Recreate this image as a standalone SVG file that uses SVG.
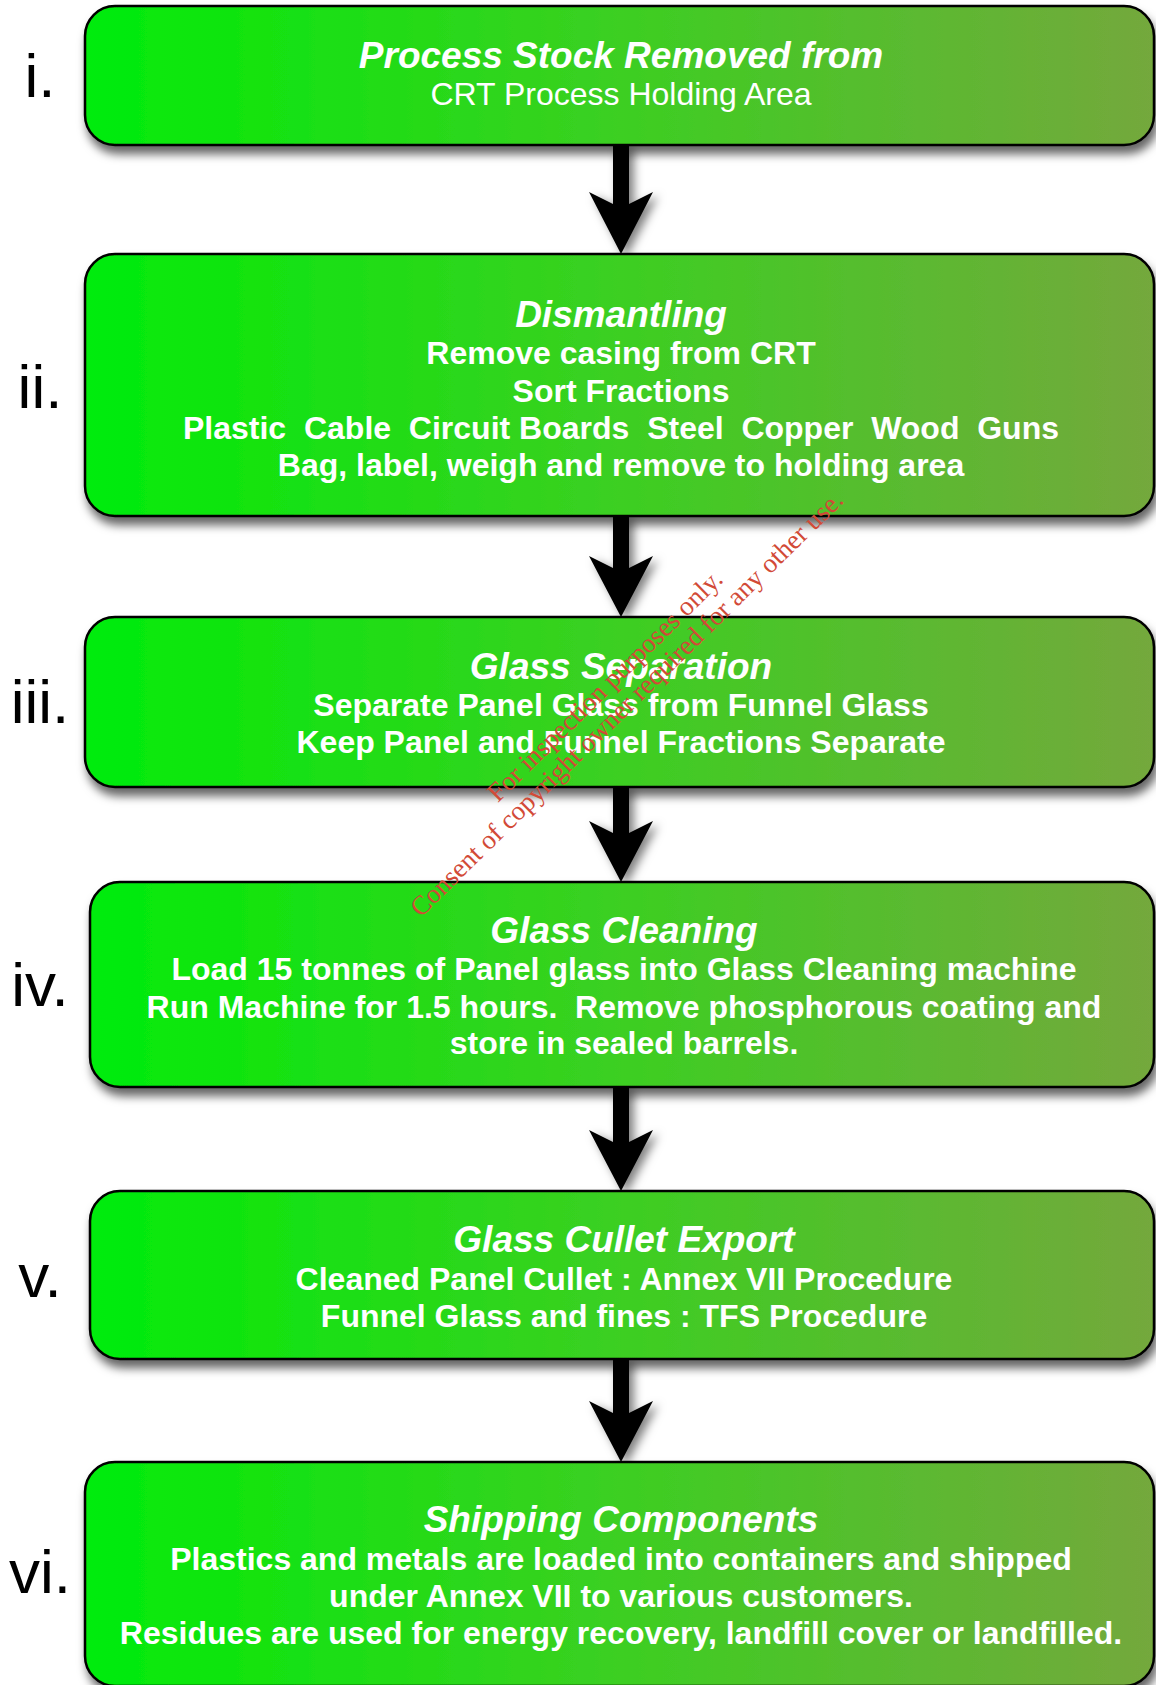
<svg xmlns="http://www.w3.org/2000/svg" width="1156" height="1685" viewBox="0 0 1156 1685">
<style>
.box{stroke:#000;stroke-width:2.5;fill:url(#g)}
.t{font-family:"Liberation Sans",Arial,sans-serif;fill:#fff;text-anchor:middle;white-space:pre}
.ti{font-size:37px;font-weight:bold;font-style:italic}
.b{font-size:32px;font-weight:bold}
.r{font-size:32px}
.num{font-family:"Liberation Sans",Arial,sans-serif;font-size:62px;fill:#000;text-anchor:middle}
.wm{font-family:"Liberation Serif","Times New Roman",serif;font-size:27px;fill:#d24a37;text-anchor:middle}
.arr{fill:#000}
</style>
<defs>
<linearGradient id="g" x1="0" y1="0" x2="1" y2="0">
<stop offset="0" stop-color="#00ec08"/>
<stop offset="0.5" stop-color="#3ccf22"/>
<stop offset="1" stop-color="#74a83c"/>
</linearGradient>
<filter id="sh" x="-5%" y="-20%" width="112%" height="150%">
<feDropShadow dx="3" dy="8" stdDeviation="5" flood-color="#000" flood-opacity="0.6"/>
</filter>
<filter id="sha" x="-50%" y="-20%" width="250%" height="150%">
<feDropShadow dx="5" dy="4" stdDeviation="5" flood-color="#000" flood-opacity="0.5"/>
</filter>
</defs>
<rect width="1156" height="1685" fill="#fff"/>
<g id="connectors" filter="url(#sha)">
<path class="arr" d="M613,145 L613,204 L589,192 L621,254 L653,192 L629,204 L629,145 Z"/>
<path class="arr" d="M613,516 L613,568 L589,556 L621,617 L653,556 L629,568 L629,516 Z"/>
<path class="arr" d="M613,787 L613,833 L589,821 L621,882 L653,821 L629,833 L629,787 Z"/>
<path class="arr" d="M613,1087 L613,1142 L589,1130 L621,1191 L653,1130 L629,1142 L629,1087 Z"/>
<path class="arr" d="M613,1359 L613,1413 L589,1401 L621,1462 L653,1401 L629,1413 L629,1359 Z"/>
</g>
<g id="node1">
<rect class="box" filter="url(#sh)" x="85" y="6" width="1069" height="139" rx="30"/>
<text class="t ti" x="621" y="68">Process Stock Removed from</text>
<text class="t r" x="621" y="105">CRT Process Holding Area</text>
<text class="num" x="40" y="97">i.</text>
</g>
<g id="node2">
<rect class="box" filter="url(#sh)" x="85" y="254" width="1069" height="262" rx="30"/>
<text class="t ti" x="621" y="327">Dismantling</text>
<text class="t b" x="621" y="364">Remove casing from CRT</text>
<text class="t b" x="621" y="402">Sort Fractions</text>
<text class="t b" x="621" y="439">Plastic  Cable  Circuit Boards  Steel  Copper  Wood  Guns</text>
<text class="t b" x="621" y="476">Bag, label, weigh and remove to holding area</text>
<text class="num" x="40" y="408">ii.</text>
</g>
<g id="node3">
<rect class="box" filter="url(#sh)" x="85" y="617" width="1069" height="170" rx="30"/>
<text class="t ti" x="621" y="679">Glass Separation</text>
<text class="t b" x="621" y="716">Separate Panel Glass from Funnel Glass</text>
<text class="t b" x="621" y="753">Keep Panel and Funnel Fractions Separate</text>
<text class="num" x="40" y="723">iii.</text>
</g>
<g id="node4">
<rect class="box" filter="url(#sh)" x="90" y="882" width="1064" height="205" rx="30"/>
<text class="t ti" x="624" y="943">Glass Cleaning</text>
<text class="t b" x="624" y="980">Load 15 tonnes of Panel glass into Glass Cleaning machine</text>
<text class="t b" x="624" y="1018">Run Machine for 1.5 hours.  Remove phosphorous coating and</text>
<text class="t b" x="624" y="1054">store in sealed barrels.</text>
<text class="num" x="40" y="1006">iv.</text>
</g>
<g id="node5">
<rect class="box" filter="url(#sh)" x="90" y="1191" width="1064" height="168" rx="30"/>
<text class="t ti" x="624" y="1252">Glass Cullet Export</text>
<text class="t b" x="624" y="1290">Cleaned Panel Cullet : Annex VII Procedure</text>
<text class="t b" x="624" y="1327">Funnel Glass and fines : TFS Procedure</text>
<text class="num" x="40" y="1297">v.</text>
</g>
<g id="node6">
<rect class="box" filter="url(#sh)" x="85" y="1462" width="1069" height="224" rx="30"/>
<text class="t ti" x="621" y="1532">Shipping Components</text>
<text class="t b" x="621" y="1570">Plastics and metals are loaded into containers and shipped</text>
<text class="t b" x="621" y="1607">under Annex VII to various customers.</text>
<text class="t b" x="621" y="1644">Residues are used for energy recovery, landfill cover or landfilled.</text>
<text class="num" x="40" y="1593">vi.</text>
</g>
<g id="watermark" transform="translate(611,692) rotate(-44.5)">
<text class="wm" x="0" y="0">For inspection purposes only.</text>
<text class="wm" x="3" y="28">Consent of copyright owner required for any other use.</text>
</g>
</svg>
